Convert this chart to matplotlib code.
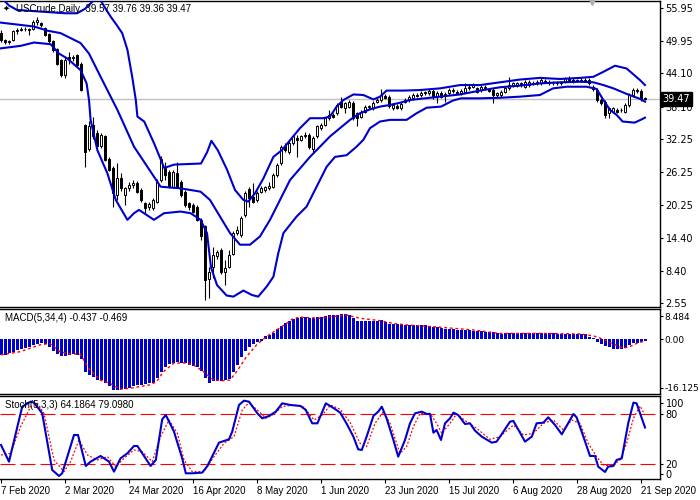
import numpy as np
import matplotlib
matplotlib.use("Agg")
import matplotlib.pyplot as plt
import matplotlib.transforms as mtransforms

# ---- daily candles, bar 0 = 7 Feb 2020, last bar = 22 Sep 2020
opens = [51.5, 50.1, 49.8, 50.1, 51.7, 51.9, 52.2, 52.1, 52.2, 53.5,
         53.2, 52.4, 51.3, 49.9, 48.6, 46.5, 43.9, 47.0, 46.9, 47.4,
         45.9, 34.8, 30.5, 34.8, 33.3, 30.9, 32.7, 28.7, 26.9, 22.1,
         25.1, 22.1, 23.3, 23.9, 24.2, 23.0, 20.6, 19.9, 19.7, 20.9,
         24.8, 26.9, 26.3, 23.6, 26.0, 24.5, 22.7, 20.6, 20.3, 20.0,
         17.6, 16.4, 6.9, 9.1, 11.0, 12.1, 8.2, 9.1, 11.5, 15.2,
         14.9, 18.5, 23.1, 21.8, 21.2, 22.7, 23.0, 23.3, 23.6, 25.7,
         27.8, 30.9, 29.9, 31.5, 32.4, 32.1, 32.7, 33.0, 30.5, 32.7,
         34.2, 34.8, 36.0, 36.6, 36.9, 39.0, 37.8, 38.1, 38.7, 36.9,
         36.3, 37.2, 38.0, 37.8, 39.0, 39.3, 40.0, 39.9, 37.8, 38.2,
         37.8, 39.0, 39.3, 39.6, 40.2, 40.2, 40.7, 40.5, 41.0, 40.0,
         40.6, 40.2, 40.5, 40.9, 40.8, 40.5, 40.8, 41.4, 41.7, 41.4,
         41.1, 41.4, 41.2, 41.1, 40.2, 40.2, 40.8, 41.4, 42.0, 41.9,
         42.3, 41.7, 42.0, 42.4, 42.3, 42.3, 42.8, 42.6, 42.3, 42.4,
         42.5, 42.6, 43.0, 42.9, 42.8, 42.8, 42.9, 42.9, 41.7, 41.1,
         39.3, 39.0, 36.9, 37.2, 37.5, 37.4, 37.2, 38.4, 40.2, 41.1,
         41.0, 39.57]
highs = [51.9, 50.3, 50.2, 51.9, 52.3, 52.5, 52.5, 52.4, 53.8, 54.4,
         53.4, 52.6, 51.5, 50.1, 48.8, 46.8, 47.0, 47.9, 47.5, 47.6,
         46.2, 35.0, 35.5, 36.3, 33.8, 33.3, 33.0, 29.0, 27.3, 27.8,
         26.0, 23.6, 24.4, 24.9, 24.6, 23.4, 20.9, 20.8, 21.6, 25.0,
         29.1, 28.0, 26.6, 26.6, 28.1, 24.8, 23.0, 20.9, 20.6, 20.3,
         17.9, 16.7, 9.0, 12.7, 12.2, 12.5, 10.3, 12.2, 15.5, 16.4,
         18.3, 22.8, 23.5, 24.3, 22.9, 23.7, 23.8, 24.5, 26.0, 27.8,
         31.2, 31.6, 31.8, 33.0, 33.0, 33.0, 33.5, 33.4, 32.7, 34.8,
         35.1, 36.3, 37.5, 36.9, 38.7, 39.9, 39.0, 39.3, 39.2, 37.2,
         37.5, 38.4, 38.4, 39.1, 39.6, 41.2, 40.4, 40.2, 38.7, 38.5,
         38.9, 39.6, 40.2, 40.5, 40.5, 40.9, 41.0, 41.2, 41.3, 40.9,
         40.9, 40.7, 41.4, 41.4, 41.1, 41.3, 42.4, 42.0, 42.3, 41.7,
         42.0, 42.0, 41.5, 41.4, 40.8, 41.1, 41.7, 43.4, 42.6, 42.6,
         42.6, 42.9, 42.9, 42.7, 42.9, 43.2, 43.1, 42.9, 42.7, 42.8,
         42.8, 43.5, 43.6, 43.2, 43.1, 43.3, 43.2, 43.2, 42.0, 41.4,
         39.6, 39.3, 38.1, 38.1, 37.8, 37.8, 38.7, 40.5, 41.4, 41.5,
         41.3, 39.76]
lows = [49.8, 49.5, 49.5, 49.9, 51.3, 51.7, 51.8, 51.1, 52.0, 52.9,
        52.5, 50.9, 49.6, 48.0, 45.6, 43.5, 43.2, 45.9, 46.3, 45.3,
        41.0, 27.2, 30.0, 32.3, 30.5, 30.6, 28.2, 26.4, 20.0, 21.2,
        22.8, 20.3, 22.9, 23.3, 22.4, 20.9, 18.8, 19.4, 19.3, 20.6,
        24.5, 24.8, 23.3, 23.3, 23.3, 21.8, 20.0, 19.4, 18.8, 17.3,
        14.0, 3.1, 3.4, 7.0, 10.6, 7.8, 5.8, 8.8, 11.2, 14.8,
        14.5, 18.2, 20.0, 20.6, 20.9, 22.4, 22.7, 23.0, 23.3, 25.4,
        27.5, 29.8, 29.6, 31.2, 29.0, 31.8, 32.4, 30.5, 29.9, 32.4,
        33.9, 34.5, 35.7, 36.0, 36.6, 37.8, 36.9, 37.8, 35.6, 34.5,
        36.0, 36.9, 37.7, 37.5, 38.7, 39.0, 39.4, 37.9, 37.5, 37.6,
        37.5, 38.7, 39.0, 39.3, 39.8, 39.9, 40.2, 40.2, 39.4, 38.7,
        39.6, 39.0, 40.2, 40.6, 40.3, 40.2, 40.5, 41.1, 41.4, 40.5,
        40.8, 41.1, 40.7, 38.7, 39.9, 39.9, 40.5, 41.1, 41.7, 41.6,
        41.7, 41.4, 41.7, 42.1, 42.0, 42.0, 42.4, 42.1, 42.0, 42.1,
        42.1, 42.3, 42.7, 42.3, 42.5, 42.5, 42.5, 42.0, 40.9, 39.0,
        38.4, 36.0, 36.0, 36.9, 36.9, 37.1, 36.9, 38.1, 39.9, 40.6,
        39.2, 39.36]
closes = [50.2, 49.8, 49.9, 51.7, 51.9, 52.2, 52.1, 52.0, 53.5, 53.7,
          52.8, 51.1, 49.9, 48.4, 45.9, 43.9, 46.6, 46.8, 47.1, 45.6,
          41.1, 29.9, 34.6, 32.7, 30.9, 32.9, 28.4, 26.6, 22.4, 25.1,
          23.3, 23.3, 23.9, 24.2, 22.7, 21.2, 19.7, 20.4, 21.2, 24.5,
          28.7, 25.7, 23.6, 26.3, 23.6, 22.1, 20.3, 20.0, 19.1, 17.6,
          14.6, 6.7, 8.2, 11.2, 11.8, 8.2, 8.8, 11.2, 15.2, 15.8,
          17.9, 22.4, 21.5, 20.9, 22.5, 23.3, 23.5, 23.7, 25.7, 27.5,
          30.8, 30.3, 31.5, 32.7, 32.1, 32.7, 33.0, 30.8, 32.4, 34.5,
          34.8, 36.0, 36.6, 36.3, 38.4, 38.1, 38.7, 39.0, 36.0, 36.0,
          37.2, 38.1, 38.1, 38.8, 39.3, 40.2, 39.7, 38.2, 38.4, 37.9,
          38.6, 39.3, 39.9, 40.2, 40.0, 40.6, 40.5, 40.9, 40.0, 40.6,
          39.9, 40.4, 41.1, 41.1, 40.6, 41.0, 41.4, 41.7, 42.0, 40.8,
          41.7, 41.7, 41.0, 40.2, 40.5, 40.8, 41.4, 42.0, 42.3, 42.3,
          42.0, 42.6, 42.6, 42.3, 42.6, 42.9, 42.6, 42.4, 42.4, 42.5,
          42.4, 43.2, 42.9, 42.6, 42.9, 43.0, 42.8, 42.3, 41.2, 39.3,
          38.7, 36.6, 37.8, 37.8, 37.2, 37.5, 38.4, 40.2, 41.1, 40.9,
          39.4, 39.47]

# ---- Bollinger bands (bar, price)
bb_upper = [(0, 57.9), (2, 56.4), (4, 55.6), (8, 55.4), (12, 55.2), (16, 55.0),
            (19, 55.0), (21, 55.8), (23, 57.2), (24.5, 57.8), (26, 56.0),
            (27.5, 54.3), (28.7, 53.1), (30.3, 51.4), (31.6, 48.4), (32.8, 43.5),
            (33.7, 39.3), (34.1, 36.3), (35.8, 35.4), (38.3, 31.4), (40, 28.4),
            (40.8, 27.0), (43.3, 27.6), (50, 27.8), (51.5, 29.8), (52.6, 31.9),
            (54.2, 30.2), (56.5, 26.7), (58.5, 23.0), (60.6, 21.2), (61.8, 20.9),
            (63.5, 22.4), (65.6, 25.1), (68.1, 29.0), (70.2, 30.2), (72.7, 32.4),
            (74.75, 34.2), (77.25, 36.0), (80.6, 36.0), (82.25, 36.3), (83.9, 38.1),
            (85.6, 39.3), (88.1, 40.3), (90.6, 40.2), (93.1, 39.4), (94.75, 39.9),
            (96.4, 41.0), (100.6, 41.0), (104.75, 41.1), (109.75, 41.4),
            (114.75, 42.0), (119.75, 42.0), (124.75, 42.5), (129.75, 43.0),
            (134.75, 43.3), (139.75, 43.1), (144.75, 43.3), (148.1, 43.5),
            (150.6, 44.4), (153.5, 45.5), (156.4, 45.0), (159.75, 42.9), (161, 42.0)]
bb_middle = [(0, 53.3), (8.25, 52.6), (11.6, 51.85), (14.9, 51.4), (19.9, 49.6),
             (22, 47.7), (24.9, 43.5), (29.1, 37.5), (33.25, 30.85), (36.6, 27.2),
             (39.9, 23.6), (44.9, 23.3), (49.9, 22.7), (52.25, 21.2), (54.75, 18.2),
             (57.25, 15.2), (59.75, 13.1), (62.25, 13.1), (64.75, 14.6), (67.25, 17.6),
             (69.75, 21.2), (72.25, 24.8), (74.75, 26.9), (77.25, 29.0), (79.75, 30.85),
             (82.25, 32.7), (84.75, 34.2), (87.25, 35.7), (89.75, 36.9), (92.25, 37.6),
             (94.75, 38.1), (97.25, 38.4), (99.75, 38.8), (102.25, 39.3), (104.75, 39.5),
             (109.75, 39.9), (114.75, 40.3), (119.75, 41.0), (124.75, 41.6),
             (129.75, 41.9), (134.75, 42.3), (139.75, 42.5), (144.75, 42.6),
             (148.1, 42.5), (150.6, 42.0), (153.1, 41.4), (156.4, 40.4),
             (159.75, 39.5), (161, 39.0)]
bb_lower = [(0, 48.65), (4.9, 49.1), (8.25, 49.7), (12.4, 49.4), (14.5, 47.7),
            (16.6, 46.8), (19.9, 44.7), (21.4, 42.3), (22, 39.3), (22.4, 35.7),
            (24.1, 30.2), (26.6, 26.0), (28.7, 21.2), (31.6, 17.6), (33.25, 18.8),
            (34.5, 19.4), (38.25, 17.6), (40.75, 18.8), (44.9, 19.1), (47.4, 18.8),
            (49.9, 17.6), (51.5, 15.2), (52.5, 9.0), (54, 5.8), (56.4, 3.9),
            (58.1, 3.7), (60.6, 4.8), (62.7, 4.0), (64.3, 3.7), (66.4, 5.5),
            (68.1, 7.3), (69.3, 11.5), (70.6, 15.2), (73.9, 18.2), (76.4, 20.0),
            (78.9, 23.6), (81.4, 27.2), (83.5, 29.0), (86.4, 29.3), (88.9, 30.85),
            (90.6, 32.1), (92.25, 34.2), (94.75, 35.4), (97.25, 35.7), (101.4, 35.7),
            (103.9, 36.9), (106.4, 37.9), (110, 38.1), (113, 39.2), (115, 39.6),
            (119.75, 39.6), (124.75, 39.7), (129.75, 39.9), (134.75, 40.2),
            (138, 41.4), (141.4, 41.7), (146.4, 41.7), (148.9, 41.3), (150.6, 39.3),
            (152.25, 37.5), (153.9, 36.6), (155.4, 35.4), (158.4, 35.2),
            (160.2, 35.8), (161, 36.1)]

# ---- MACD(5,34,4) histogram, one value per bar
macd_hist = [-4.5, -4.5, -4.1, -3.6, -3.1, -2.8, -2.4, -2.1, -1.6, -1.35,
             -1.2, -1.45, -2.1, -3.3, -4.25, -4.7, -4.7, -4.5, -4.35, -4.5,
             -5.8, -9.4, -10.3, -11.0, -11.8, -11.8, -12.6, -13.5, -14.7, -14.7,
             -14.5, -14.5, -14.0, -13.5, -13.2, -13.2, -13.0, -12.75, -12.6, -11.3,
             -9.4, -7.9, -7.2, -6.8, -6.5, -6.8, -7.0, -7.4, -7.7, -7.9,
             -9.1, -11.3, -12.6, -12.0, -12.0, -12.0, -11.8, -11.6, -9.4, -7.4,
             -5.0, -3.3, -2.1, -1.35, -0.7, -0.4, 1.0, 1.35, 1.9, 2.9,
             3.9, 4.6, 5.4, 6.0, 6.2, 6.4, 6.6, 6.1, 6.1, 6.4,
             6.6, 6.8, 6.9, 6.9, 7.1, 7.25, 7.2, 6.95, 6.1, 5.4,
             5.3, 5.3, 5.3, 5.3, 5.3, 5.6, 5.1, 4.4, 4.35, 4.35,
             4.35, 4.15, 4.15, 4.15, 4.0, 4.0, 4.0, 3.9, 3.7, 3.5,
             3.2, 3.0, 3.0, 2.9, 2.7, 2.7, 2.7, 2.7, 2.5, 2.4,
             2.4, 2.2, 2.0, 2.0, 1.7, 1.45, 1.7, 1.7, 1.7, 1.7,
             1.7, 1.7, 1.7, 1.7, 1.7, 1.7, 1.7, 1.7, 1.7, 1.55,
             1.55, 1.55, 1.55, 1.55, 1.55, 1.55, 1.45, 0.8, 0.3, -0.7,
             -1.35, -1.9, -2.1, -2.8, -2.8, -2.8, -2.6, -1.6, -1.2, -1.0,
             -0.7, -0.437]
macd_signal = [(0, -4.5), (4.75, -3.6), (9.75, -1.6), (12.25, -1.2), (14.75, -3.6),
               (17.25, -4.25), (19.75, -4.25), (22.25, -8.9), (24.75, -11.8),
               (27.25, -12.75), (29.75, -14.5), (32.25, -14.2), (34.75, -13.7),
               (37.25, -13.2), (38.9, -12.3), (40.6, -9.4), (43.1, -7.0), (45.6, -6.8),
               (48.1, -7.4), (50.6, -9.4), (53.1, -11.8), (55.6, -12.0), (57.25, -11.8),
               (58.9, -9.4), (61.4, -5.0), (63.9, -1.6), (66.4, 0.8), (68.9, 2.7),
               (71.4, 4.6), (73.1, 6.1), (75, 6.4), (79.75, 6.1), (83.1, 6.6),
               (86.4, 7.05), (89.75, 6.1), (94.75, 5.4), (98, 4.6), (101.5, 4.15),
               (109.75, 3.5), (118.1, 2.7), (124.75, 1.7), (135, 1.7), (144.75, 1.55),
               (148.1, 1.0), (150.6, 0.0), (153.1, -1.35), (155.6, -2.6),
               (157.25, -2.1), (158.9, -1.2), (161, -0.469)]

# ---- Stochastic(5,3,3)
stoch_main = [(0, 43.2), (2, 23.2), (5.3, 89.2), (7.4, 95.2), (8.25, 94), (10.3, 81.2),
              (12.8, 13.2), (14.5, 6.0), (15.3, 9.2), (18.25, 55.2), (19.25, 55.2),
              (21.2, 18), (22.4, 23.2), (24.9, 30), (27, 23.2), (28.25, 11.2),
              (29.9, 27.2), (31.6, 33.2), (33.25, 42), (34.1, 42), (37.4, 18),
              (38.7, 25.2), (40.3, 74), (41.2, 79.2), (43.25, 59.2), (45.3, 27.2),
              (46.2, 9.2), (47.8, 9.2), (50.3, 10), (51.6, 18), (54.5, 46), (57, 50),
              (57.8, 59.2), (59.5, 91.2), (60.75, 96.4), (62, 95.2), (64.1, 81.2),
              (65.3, 75.2), (67, 78), (68.7, 83.2), (70.3, 93.2), (72.4, 91.2),
              (74.9, 90), (76.2, 85.2), (77.8, 69.2), (79.1, 69.2), (81.2, 93.2),
              (83.25, 87.2), (84.8, 82), (86.5, 68), (88.1, 53.2), (89.3, 38),
              (90.2, 37.2), (91.4, 53.2), (93.1, 78), (94.3, 83.2), (95.2, 89.2),
              (96.4, 75.2), (98.1, 49.2), (99.3, 29.2), (101, 49.2), (102.25, 69.2),
              (103.5, 81.2), (105.2, 83.2), (106.4, 80.4), (107.25, 80.4), (108.1, 58),
              (108.9, 61.2), (110, 49.2), (111, 69.2), (112.25, 75.2), (113.1, 82),
              (114.3, 79.2), (116, 68.4), (117.25, 69.2), (118.5, 60.4), (120.2, 53.2),
              (122.7, 46), (123.9, 47.2), (125.6, 59.2), (127.25, 71.2), (128.1, 72),
              (129.75, 58), (131, 47.2), (132.7, 53.2), (133.9, 69.2), (135.6, 70),
              (136.8, 76.4), (138.5, 67.2), (140.2, 56), (142.25, 73.2), (143.1, 80.4),
              (143.9, 76.4), (145.6, 53.2), (147.25, 30), (148.5, 30), (149.3, 17.2),
              (151, 10.8), (151.8, 17.2), (153.1, 18), (153.9, 25.2), (155.2, 27.2),
              (156.8, 69.2), (158.1, 94), (158.9, 93.2), (161, 64.19)]
stoch_signal = [(0, 31.2), (2.4, 33.2), (4.9, 65.2), (7.4, 89.2), (9.1, 93.2),
                (10.75, 81.2), (13.25, 25.2), (15.75, 11.2), (17.4, 23.2), (19.5, 49.2),
                (21.6, 31.2), (24.1, 25.2), (26.6, 29.2), (28.7, 17.2), (30.75, 27.2),
                (33.25, 37.2), (35.3, 35.2), (37.8, 23.2), (39.9, 53.2), (42, 73.2),
                (44.1, 57.2), (45.75, 25.2), (47.8, 11.2), (50.75, 11.2), (53.25, 29.2),
                (55.75, 45.2), (58.25, 53.2), (60.3, 85.2), (62, 94), (64.1, 85.2),
                (66.2, 75.2), (68.25, 80.4), (70.3, 89.2), (73.25, 91.2), (75.75, 88.4),
                (78.25, 73.2), (80.3, 79.2), (82.4, 91.2), (84.8, 86), (87.3, 70),
                (89.75, 45.2), (91.4, 41.2), (93.5, 69.2), (95.6, 83.2), (97.25, 69.2),
                (99.75, 33.2), (101.4, 41.2), (103.1, 65.2), (104.75, 81.2),
                (107.25, 81.2), (108.9, 69.2), (110.2, 57.2), (112.25, 69.2),
                (113.9, 80.4), (116.4, 71.2), (118.9, 63.2), (122.25, 50), (124.75, 53.2),
                (128.1, 67.2), (130.6, 55.2), (133.1, 57.2), (135.6, 69.2), (138.1, 73.2),
                (140.6, 61.2), (142.7, 73.2), (144.75, 69.2), (146.8, 45.2),
                (148.9, 29.2), (150.6, 19.2), (152.7, 18), (154.75, 25.2), (156.4, 45.2),
                (158.1, 75.2), (159.75, 90), (161, 79.1)]

price_ticks = [55.95, 49.95, 44.10, 38.10, 32.25, 26.25, 20.25, 14.40, 8.40, 2.55]
date_bars = [0, 16, 32, 48, 64, 80, 96, 112, 128, 144, 160]
date_labels = ['7 Feb 2020', '2 Mar 2020', '24 Mar 2020', '16 Apr 2020', '8 May 2020',
               '1 Jun 2020', '23 Jun 2020', '15 Jul 2020', '6 Aug 2020', '28 Aug 2020',
               '21 Sep 2020']
last_price = 39.47

BLUE = '#0000cd'
RED = '#ff0000'
W, H = 700, 500


def box(x0, y0, x1, y1):
    return [x0 / W, 1 - y1 / H, (x1 - x0) / W, (y1 - y0) / H]


fig = plt.figure(figsize=(7, 5), dpi=100)
ax1 = fig.add_axes(box(0, 0.5, 660, 307))
ax2 = fig.add_axes(box(0, 309, 660, 394))
ax3 = fig.add_axes(box(0, 396, 660, 479))

for ax in (ax1, ax2, ax3):
    ax.set_xlim(-0.25, 164.75)
    ax.spines['left'].set_visible(False)
    for s in ('top', 'right', 'bottom'):
        ax.spines[s].set_linewidth(1.0)
        ax.spines[s].set_color('black')
    ax.yaxis.tick_right()
    ax.tick_params(axis='y', length=2.5, width=0.8, pad=1.5, labelsize=7)
    ax.tick_params(axis='x', bottom=False, labelbottom=False)

# ---- main panel
idx = np.arange(len(closes))
o = np.array(opens)
h = np.array(highs)
l = np.array(lows)
c = np.array(closes)

ax1.axhline(last_price, color='#c0c0c0', lw=1, zorder=0)
ax1.vlines(idx, l, h, color='black', lw=0.8, zorder=2)
up = c >= o
body_lo = np.minimum(o, c)
body_h = np.maximum(np.abs(c - o), 0.12)
ax1.bar(idx[up], body_h[up], bottom=body_lo[up], width=0.6,
        facecolor='white', edgecolor='black', linewidth=0.7, zorder=3)
ax1.bar(idx[~up], body_h[~up], bottom=body_lo[~up], width=0.6,
        facecolor='black', edgecolor='black', linewidth=0.7, zorder=3)

for band in (bb_upper, bb_middle, bb_lower):
    bx, by = zip(*band)
    ax1.plot(bx, by, color=BLUE, lw=1.5, zorder=4, solid_joinstyle='round')

ax1.set_ylim(1.82, 57.31)
ax1.set_yticks(price_ticks)
ax1.set_yticklabels([f'{v:.2f}' for v in price_ticks])

trans = mtransforms.blended_transform_factory(ax1.transAxes, ax1.transData)
ax1.text(1.004, last_price, f'{last_price:.2f}', transform=trans, ha='left', va='center',
         color='white', fontsize=7, zorder=10,
         bbox=dict(boxstyle='square,pad=0.2', fc='black', ec='black'))
ax1.plot([147.75], [1.0], transform=mtransforms.blended_transform_factory(ax1.transData, ax1.transAxes),
         marker='v', ms=6, color='#b0b0b0', clip_on=False, zorder=6)

fig.text(3 / W, 1 - 8.5 / H, '\u2726', fontsize=6, va='center', ha='left', color='black')
fig.text(16 / W, 1 - 8.5 / H, 'USCrude,Daily  39.57 39.76 39.36 39.47',
         fontsize=7, family='Liberation Sans', va='center', ha='left', color='black')

# ---- MACD panel
ax2.bar(idx, macd_hist, width=0.75, color=BLUE, linewidth=0, zorder=2)
sx, sy = zip(*macd_signal)
ax2.plot(sx, sy, color=RED, lw=1.0, linestyle=(0, (2, 2)), zorder=3)
ax2.set_ylim(-15.86, 8.78)
ax2.set_yticks([6.75, 0, -14.1])
ax2.set_yticklabels(['8.484', '0.00', '-16.125'])
ax2.tick_params(axis='y', labelsize=6.5, pad=1)
fig.text(5 / W, 1 - 318 / H, 'MACD(5,34,4) -0.437 -0.469',
         fontsize=7, family='Liberation Sans', va='center', ha='left')

# ---- Stochastic panel
for lvl in (20, 80):
    ax3.axhline(lvl, color=RED, lw=0.8, linestyle=(0, (13.5, 4.5)), zorder=1)
mx, my = zip(*stoch_main)
ax3.plot(mx, my, color=BLUE, lw=1.5, zorder=3)
gx, gy = zip(*stoch_signal)
ax3.plot(gx, gy, color=RED, lw=0.9, linestyle=(0, (1.5, 1.5)), zorder=2)
ax3.set_ylim(2.36, 102.0)
ax3.set_yticks([93.6, 80, 20, 8.4])
ax3.set_yticklabels(['100', '80', '20', '0'])
fig.text(5 / W, 1 - 405 / H, 'Stoch(5,3,3) 64.1864 79.0980',
         fontsize=7, family='Liberation Sans', va='center', ha='left')

ax3.tick_params(axis='x', bottom=True, labelbottom=True, length=3, width=0.8,
                pad=2, labelsize=7)
ax3.set_xticks(date_bars)
ax3.set_xticklabels(date_labels, ha='left', family='Liberation Sans')

fig.savefig('out.png', dpi=100)
